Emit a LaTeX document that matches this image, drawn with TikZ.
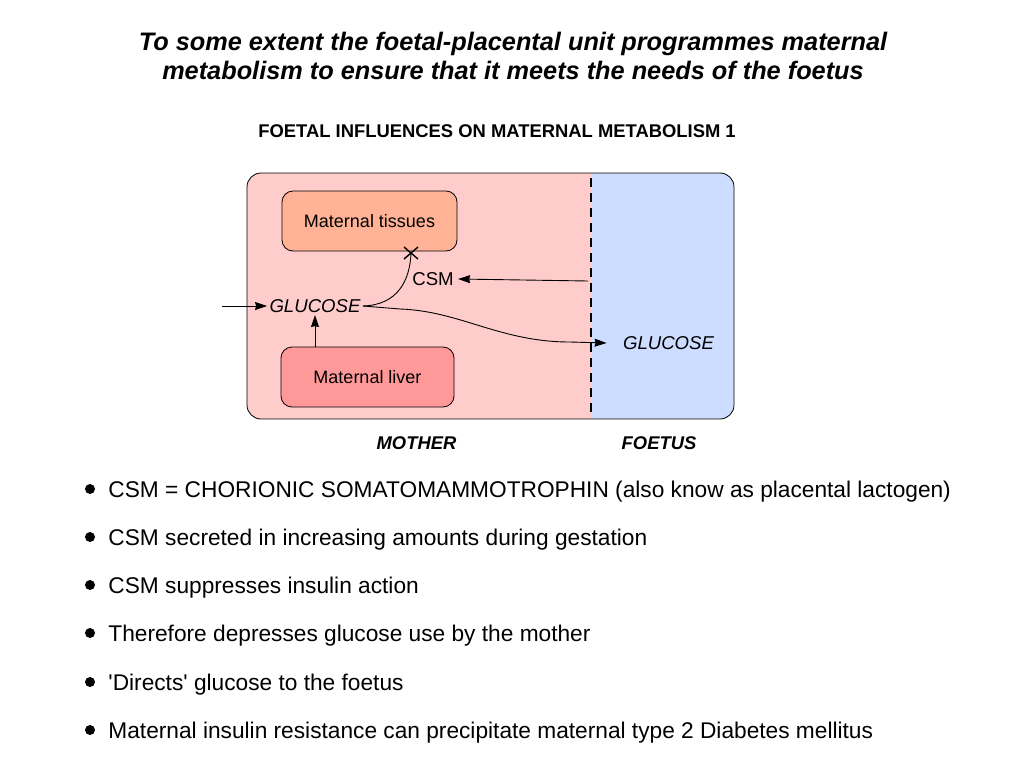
\documentclass[tikz,border=0pt]{standalone}
\usepackage{fontspec}
\setmainfont{Liberation Sans}[Ligatures=TeXOff]
\usepackage[dvipsnames]{xcolor}
\usetikzlibrary{calc,arrows.meta}
\definecolor{motherpink}{RGB}{255,204,204}
\definecolor{foetusblue}{RGB}{204,221,255}
\definecolor{tissuecol}{RGB}{255,178,150}
\definecolor{livercol}{RGB}{255,153,153}

\begin{document}
\begin{tikzpicture}[x=1pt,y=-1pt,>={Stealth[length=12pt,width=8pt,inset=1pt]},line width=0.9pt,
    organ/.style={draw=black,line width=0.8pt,rounded corners=11pt,minimum width=175pt,minimum height=60pt,font=\fontsize{18}{20}\selectfont},
    label node/.style={font=\fontsize{18.6}{20}\selectfont\itshape,inner sep=2pt},
    bullet text/.style={anchor=west,font=\fontsize{22.7}{26}\selectfont,inner sep=0pt}]
    \useasboundingbox (0,0) rectangle (1024,768);
    % titles
    \node[font=\fontsize{25.3}{29}\selectfont\bfseries\itshape,align=center] (title) at (513,56) {To some extent the foetal-placental unit programmes maternal\\metabolism to ensure that it meets the needs of the foetus};
    \node[font=\fontsize{18.4}{20}\selectfont\bfseries] (subtitle) at (497,131) {FOETAL INFLUENCES ON MATERNAL METABOLISM 1};

    % mother and foetus compartments
    \begin{scope}
        \clip[rounded corners=14pt] (247,173) rectangle (734,419);
        \fill[motherpink] (247,173) rectangle (591,419);
        \fill[foetusblue] (591,173) rectangle (734,419);
    \end{scope}
    \draw[line width=0.8pt,rounded corners=14pt] (247,173) rectangle (734,419);
    \draw[line width=2pt,dash pattern=on 9pt off 6pt] (591,178) -- (591,415);

    \node[organ,fill=tissuecol] (tissues) at (369.5,221) {Maternal tissues};
    \node[organ,fill=livercol,minimum width=173pt] (liver) at (367.5,377) {Maternal liver};
    \node[label node] (glc) at (315,306) {GLUCOSE};
    \node[font=\fontsize{18.6}{20}\selectfont,inner sep=4pt] (csm) at (433,279) {CSM};
    \node[label node] (fglc) at (668.5,343) {GLUCOSE};
    \coordinate (in) at (222,306);
    \coordinate (placenta) at (588,281);
    \coordinate (block) at (411,253);

    \draw[->] (in) -- (glc.west);
    \draw[->] (liver.north -| glc.south) -- (glc.south);
    \draw[->] (placenta) -- (csm.east);
    \draw (glc.east) .. controls (398,305) and (410,280) .. (block);
    \draw[line width=1.4pt] ($(block)+(-7,-6)$) -- ($(block)+(7,6)$) ($(block)+(-7,6)$) -- ($(block)+(7,-6)$);
    \draw[->] (glc.east) -- (400,309) .. controls (460,311) and (500,342) .. (570,342) -- ([xshift=-14pt]fglc.west);

    \node[font=\fontsize{18.4}{20}\selectfont\bfseries\itshape] (mother) at (416.5,443) {MOTHER};
    \node[font=\fontsize{18.4}{20}\selectfont\bfseries\itshape] (foetus) at (659,443) {FOETUS};

    % bullet points
    \foreach \y/\txt in {492/{CSM = CHORIONIC SOMATOMAMMOTROPHIN (also know as placental lactogen)},
                         540/{CSM secreted in increasing amounts during gestation},
                         588/{CSM suppresses insulin action},
                         636/{Therefore depresses glucose use by the mother},
                         685/{'Directs' glucose to the foetus},
                         733/{Maternal insulin resistance can precipitate maternal type 2 Diabetes mellitus}}{
        \fill (90,\y-3) circle (5pt);
        \node[bullet text] at (108,\y) {\txt};
    }
\end{tikzpicture}
\end{document}
